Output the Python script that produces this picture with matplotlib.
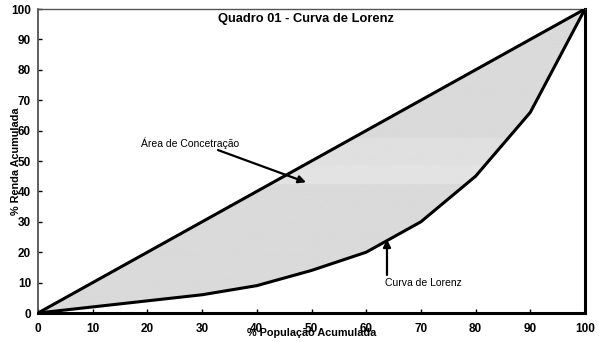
import numpy as np
import matplotlib.pyplot as plt
from matplotlib.patches import Polygon

plt.rcParams['font.family'] = ['Liberation Sans', 'DejaVu Sans']

# % população acumulada e % renda acumulada
populacao = [0, 10, 20, 30, 40, 50, 60, 70, 80, 90, 100]
renda = [0, 2, 4, 6, 9, 14, 20, 30, 45, 66, 100]
igualdade = [0, 100]
ticks = [0, 10, 20, 30, 40, 50, 60, 70, 80, 90, 100]

fig = plt.figure(figsize=(5.99, 3.42), dpi=100)
ax = fig.add_axes([38 / 599, 29 / 342, 547 / 599, 304 / 342])

# área entre a reta de igualdade e a curva, com faixas de cinza
yy = np.linspace(0, 100, 401)
cinza = np.full_like(yy, 0.852)
cinza[(yy > 42.4) & (yy <= 48.7)] = 0.890
cinza[(yy > 48.7) & (yy <= 57.6)] = 0.878
img = ax.imshow(cinza[:, None], extent=[0, 100, 0, 100], origin='lower',
                cmap='gray', vmin=0, vmax=1, aspect='auto', zorder=1)
verts = list(zip(populacao, renda)) + [(0, 0)]
poly = Polygon(verts, closed=True, facecolor='none', edgecolor='none')
ax.add_patch(poly)
img.set_clip_path(poly)

ax.plot(igualdade, igualdade, color='black', lw=2.2, zorder=3)
ax.plot(populacao, renda, color='black', lw=2.2, zorder=3)

ax.set_xlim(0, 100)
ax.set_ylim(0, 100)
ax.set_xticks(ticks)
ax.set_yticks(ticks)
ax.tick_params(direction='in', length=3, width=1, labelsize=8.5)
ax.tick_params(axis='x', pad=7)
ax.tick_params(axis='y', pad=5)
for lab in ax.get_xticklabels() + ax.get_yticklabels():
    lab.set_fontweight('bold')

ax.spines['bottom'].set_linewidth(2.2)
ax.spines['right'].set_linewidth(2.2)
ax.spines['top'].set_color('#555555')
ax.spines['top'].set_linewidth(1)
ax.spines['left'].set_color('#444444')
ax.spines['left'].set_linewidth(1.2)

ax.text(49, 96.8, 'Quadro 01 - Curva de Lorenz', ha='center', va='center',
        fontsize=9.3, fontweight='bold')
ax.set_xlabel('% População Acumulada', fontsize=7.8, fontweight='bold', labelpad=-5)
ax.set_ylabel('% Renda Acumulada', fontsize=7.8, fontweight='bold', labelpad=-7)

seta = dict(arrowstyle='-|>', color='black', lw=1.6, mutation_scale=11,
            shrinkA=0, shrinkB=0)
ax.text(27.8, 55.8, 'Área de Concetração', ha='center', va='center', fontsize=7.5)
ax.annotate('', xy=(49, 43), xytext=(32.9, 53.6), arrowprops=seta, zorder=4)
ax.text(63.4, 9.9, 'Curva de Lorenz', ha='left', va='center', fontsize=7.5)
ax.annotate('', xy=(63.8, 24.2), xytext=(63.8, 12.5), arrowprops=seta, zorder=4)

fig.savefig('out.png', dpi=100)
